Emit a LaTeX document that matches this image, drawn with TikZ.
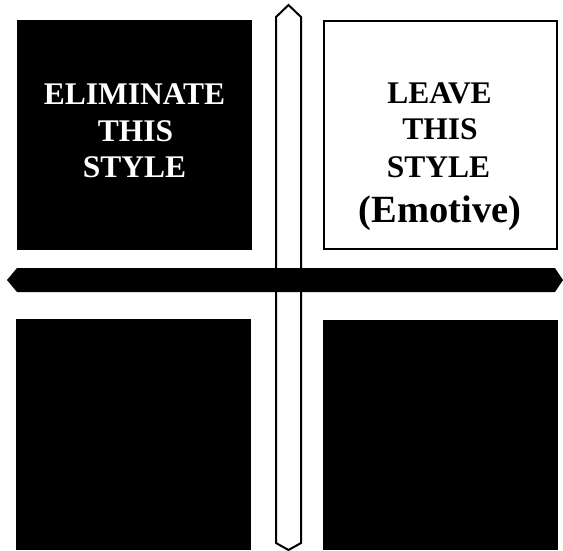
\documentclass[tikz,border=0pt]{standalone}
\usepackage{fontspec}
\setmainfont{Liberation Serif}
\begin{document}
\begin{tikzpicture}[x=1pt,y=-1pt,
  blackbox/.style={fill=black,draw=none},
  whitebox/.style={fill=white,draw=black,line width=2pt},
  bartxt/.style={font=\fontsize{31.5}{36}\selectfont\bfseries,anchor=base,inner sep=0pt},
  bigtxt/.style={font=\fontsize{38.5}{44}\selectfont\bfseries,anchor=base,inner sep=0pt}]
\useasboundingbox[fill=white] (0,0) rectangle (563,550);
% boxes
\fill[blackbox] (17,20) rectangle (252,250);
\filldraw[whitebox] (324,21) rectangle (557,249);
\fill[blackbox] (16,319) rectangle (251,550);
\fill[blackbox] (323,320) rectangle (558,550);
% vertical bar (outlined)
\draw[line width=2pt,line join=miter,fill=white] (276,17) -- (288.5,5) -- (301,17) -- (301,543) -- (288.5,550) -- (276,543) -- cycle;
% horizontal bar (filled)
\fill[black] (17,268) -- (555,268) -- (563,280) -- (555,292) -- (17,292) -- (7,280) -- cycle;
% texts
\node[bartxt,text=white] (l1) at (134.5,104) {ELIMINATE};
\node[bartxt,text=white] (l2) at (135.5,141) {THIS};
\node[bartxt,text=white] (l3) at (134.5,177) {STYLE};
\node[bartxt] (r1) at (439.5,103) {LEAVE};
\node[bartxt] (r2) at (440,139) {THIS};
\node[bartxt] (r3) at (438.5,177) {STYLE};
\node[bigtxt] (r4) at (440,222) {(Emotive)};
\end{tikzpicture}
\end{document}
